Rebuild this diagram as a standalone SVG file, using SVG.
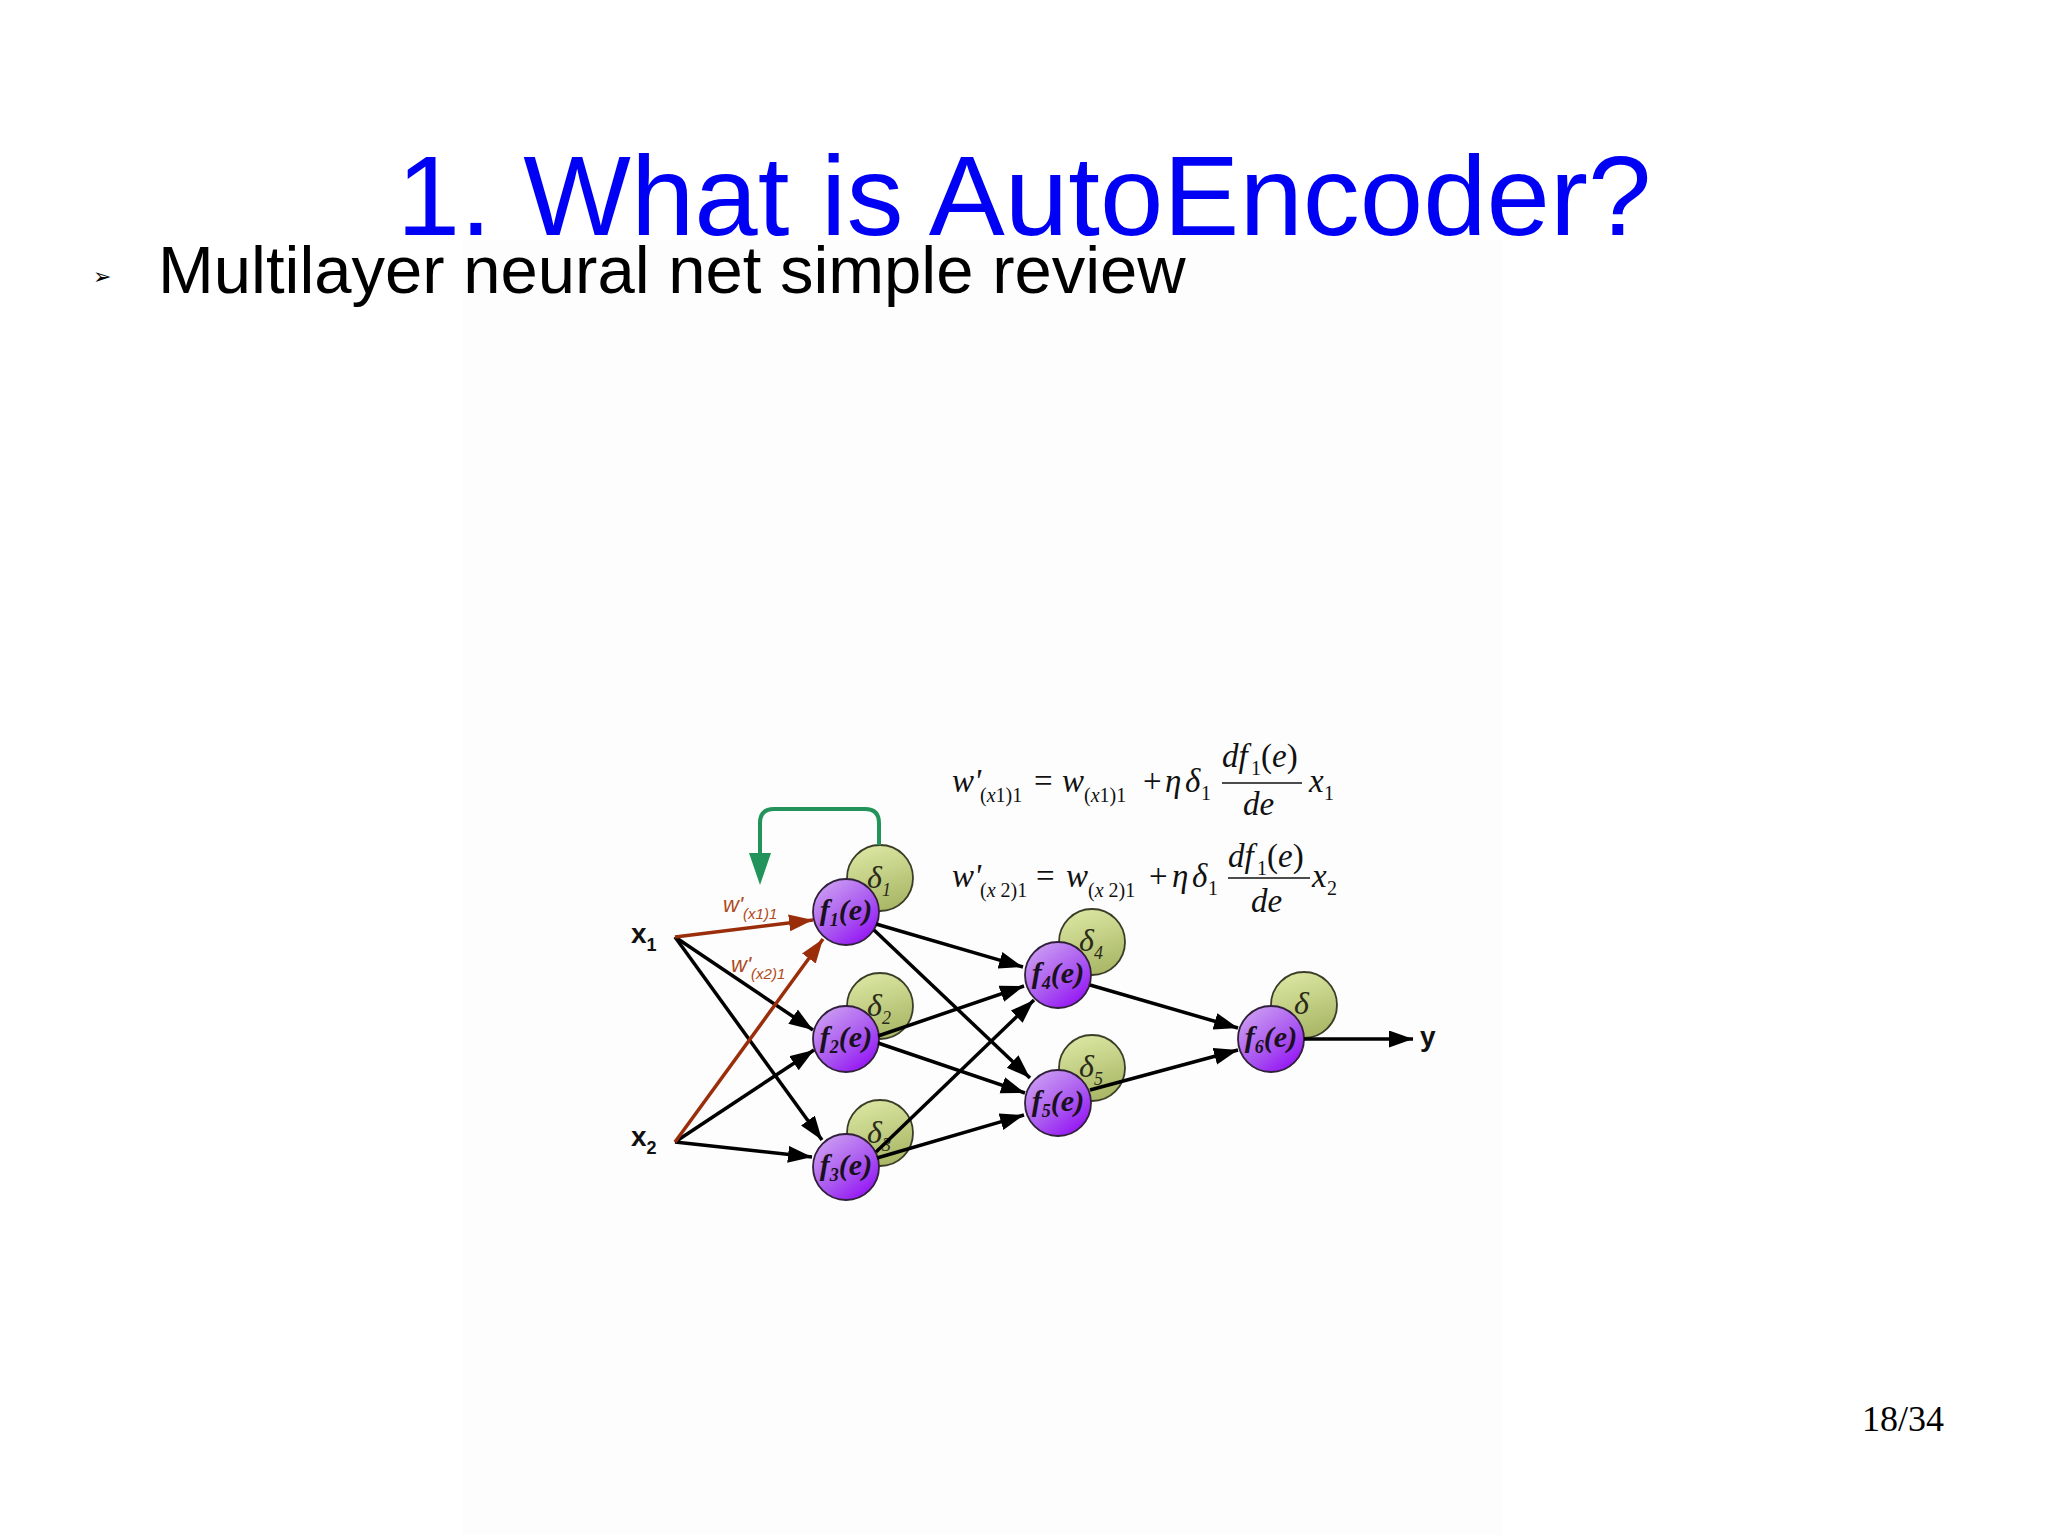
<svg xmlns="http://www.w3.org/2000/svg" width="2048" height="1535" viewBox="0 0 2048 1535">
<style>
.title{font-family:"Liberation Sans",Arial,sans-serif;font-size:114px;fill:#0000f5}
.bullet{font-family:"Liberation Sans",Arial,sans-serif;font-size:67px;fill:#000}
.pg{font-family:"Liberation Serif","Times New Roman",serif;font-size:36px;fill:#000}
.eq{font-family:"Liberation Serif","Times New Roman",serif;font-size:33px;fill:#111}
.it{font-style:italic}
.sub{font-size:20px}
.nl{font-family:"Liberation Serif","Times New Roman",serif;font-style:italic;font-weight:bold;font-size:30px;fill:#1a1020}
.dl{font-family:"Liberation Serif","Times New Roman",serif;font-style:italic;font-size:32px;fill:#2a2a18}
.xl{font-family:"Liberation Sans",Arial,sans-serif;font-weight:bold;font-size:28px;fill:#111}
.wl{font-family:"Liberation Sans",Arial,sans-serif;font-style:italic;font-size:22px;fill:#b04a22}
.blk{stroke:#000;stroke-width:3.5;fill:none;marker-end:url(#ah)}
.brn{stroke:#9a2e0a;stroke-width:3.5;fill:none;marker-end:url(#ahb)}
.gc{fill:url(#gg);stroke:#3c3c28;stroke-width:1.8}
.pc{fill:url(#pg);stroke:#30203a;stroke-width:1.8}
</style>
<defs>
<linearGradient id="pg" x1="0.2" y1="0.1" x2="0.85" y2="0.95">
<stop offset="0" stop-color="#c896f2"/>
<stop offset="0.55" stop-color="#a956f0"/>
<stop offset="1" stop-color="#9410f5"/>
</linearGradient>
<linearGradient id="gg" x1="0.3" y1="0" x2="0.6" y2="1">
<stop offset="0" stop-color="#dbe7a2"/>
<stop offset="1" stop-color="#a8b665"/>
</linearGradient>
<marker id="ah" markerUnits="userSpaceOnUse" markerWidth="26" markerHeight="18" refX="24" refY="8.5" orient="auto">
<path d="M0,0 L24,8.5 L0,17 z" fill="#000"/>
</marker>
<marker id="ahb" markerUnits="userSpaceOnUse" markerWidth="26" markerHeight="18" refX="24" refY="8.5" orient="auto">
<path d="M0,0 L24,8.5 L0,17 z" fill="#9a2e0a"/>
</marker>
</defs>
<rect width="2048" height="1535" fill="#fff"/>
<rect x="463" y="240" width="1040" height="1295" fill="#fdfdfd"/>

<g id="title"><text class="title" x="1024" y="235" text-anchor="middle">1. What is AutoEncoder?</text></g>
<g id="bullet">
<text x="93" y="284" font-family="DejaVu Sans,sans-serif" font-size="22" fill="#000">➢</text>
<text class="bullet" x="158" y="293">Multilayer neural net simple review</text>
</g>
<g id="page"><text class="pg" x="1862" y="1431">18/34</text></g>

<g id="equation1">
<text class="eq it" x="952" y="792">w'</text>
<text class="eq sub" x="980" y="802">(<tspan class="it">x</tspan>1)1</text>
<text class="eq" x="1034" y="792">=</text>
<text class="eq it" x="1062" y="792">w</text>
<text class="eq sub" x="1084" y="802">(<tspan class="it">x</tspan>1)1</text>
<text class="eq" x="1143" y="792">+</text>
<text class="eq it" x="1165" y="792">η</text>
<text class="eq it" x="1185" y="792">δ</text>
<text class="eq sub" x="1201" y="800">1</text>
<text class="eq it" x="1222" y="767">df</text>
<text class="eq sub" x="1251" y="775">1</text>
<text class="eq" x="1261" y="767">(<tspan class="it">e</tspan>)</text>
<line x1="1222" y1="783" x2="1302" y2="783" stroke="#111" stroke-width="1.5"/>
<text class="eq it" x="1243" y="815">de</text>
<text class="eq it" x="1309" y="792">x</text>
<text class="eq sub" x="1324" y="800">1</text>
</g>
<g id="equation2">
<text class="eq it" x="952" y="887">w'</text>
<text class="eq sub" x="980" y="897">(<tspan class="it">x</tspan> 2)1</text>
<text class="eq" x="1036" y="887">=</text>
<text class="eq it" x="1066" y="887">w</text>
<text class="eq sub" x="1088" y="897">(<tspan class="it">x</tspan> 2)1</text>
<text class="eq" x="1149" y="887">+</text>
<text class="eq it" x="1172" y="887">η</text>
<text class="eq it" x="1192" y="887">δ</text>
<text class="eq sub" x="1208" y="895">1</text>
<text class="eq it" x="1228" y="867">df</text>
<text class="eq sub" x="1257" y="875">1</text>
<text class="eq" x="1267" y="867">(<tspan class="it">e</tspan>)</text>
<line x1="1228" y1="878" x2="1310" y2="878" stroke="#111" stroke-width="1.5"/>
<text class="eq it" x="1251" y="912">de</text>
<text class="eq it" x="1312" y="887">x</text>
<text class="eq sub" x="1327" y="895">2</text>
</g>

<g id="input-x1"><text class="xl" x="631" y="943">x<tspan font-size="18" dy="8">1</tspan></text></g>
<g id="input-x2"><text class="xl" x="631" y="1146">x<tspan font-size="18" dy="8">2</tspan></text></g>
<g id="output-y"><text class="xl" x="1420" y="1046">y</text></g>

<g id="node1">
<circle class="gc" cx="880" cy="878" r="33"/>
<text class="dl" x="867" y="888">δ<tspan font-size="18" dy="8">1</tspan></text>
<circle class="pc" cx="846" cy="912" r="33"/>
<text class="nl" x="846" y="920" text-anchor="middle">f<tspan font-size="18" dy="6">1</tspan><tspan dy="-6">(e)</tspan></text>
</g>
<g id="node2">
<circle class="gc" cx="880" cy="1006" r="33"/>
<text class="dl" x="867" y="1016">δ<tspan font-size="18" dy="8">2</tspan></text>
<circle class="pc" cx="846" cy="1039" r="33"/>
<text class="nl" x="846" y="1047" text-anchor="middle">f<tspan font-size="18" dy="6">2</tspan><tspan dy="-6">(e)</tspan></text>
</g>
<g id="node3">
<circle class="gc" cx="880" cy="1133" r="33"/>
<text class="dl" x="867" y="1143">δ<tspan font-size="18" dy="8">3</tspan></text>
<circle class="pc" cx="846" cy="1167" r="33"/>
<text class="nl" x="846" y="1175" text-anchor="middle">f<tspan font-size="18" dy="6">3</tspan><tspan dy="-6">(e)</tspan></text>
</g>
<g id="node4">
<circle class="gc" cx="1092" cy="942" r="33"/>
<text class="dl" x="1079" y="951">δ<tspan font-size="18" dy="8">4</tspan></text>
<circle class="pc" cx="1058" cy="975" r="33"/>
<text class="nl" x="1058" y="983" text-anchor="middle">f<tspan font-size="18" dy="6">4</tspan><tspan dy="-6">(e)</tspan></text>
</g>
<g id="node5">
<circle class="gc" cx="1092" cy="1068" r="33"/>
<text class="dl" x="1079" y="1077">δ<tspan font-size="18" dy="8">5</tspan></text>
<circle class="pc" cx="1058" cy="1103" r="33"/>
<text class="nl" x="1058" y="1111" text-anchor="middle">f<tspan font-size="18" dy="6">5</tspan><tspan dy="-6">(e)</tspan></text>
</g>
<g id="node6">
<circle class="gc" cx="1304" cy="1005" r="33"/>
<text class="dl" x="1294" y="1014">δ</text>
<circle class="pc" cx="1271" cy="1039" r="33"/>
<text class="nl" x="1271" y="1047" text-anchor="middle">f<tspan font-size="18" dy="6">6</tspan><tspan dy="-6">(e)</tspan></text>
</g>

<g id="connectors">
<line class="blk" x1="675" y1="937" x2="813" y2="1030"/>
<line class="blk" x1="675" y1="937" x2="822" y2="1140"/>
<line class="blk" x1="675" y1="1142" x2="814" y2="1050"/>
<line class="blk" x1="675" y1="1142" x2="812" y2="1157"/>
<line class="brn" x1="675" y1="937" x2="813" y2="920"/>
<line class="brn" x1="675" y1="1142" x2="823" y2="939"/>
<line class="blk" x1="876" y1="924" x2="1023" y2="967"/>
<line class="blk" x1="874" y1="930" x2="1030" y2="1078"/>
<line class="blk" x1="878" y1="1036" x2="1024" y2="986"/>
<line class="blk" x1="878" y1="1043" x2="1025" y2="1093"/>
<line class="blk" x1="876" y1="1152" x2="1034" y2="1000"/>
<line class="blk" x1="877" y1="1158" x2="1024" y2="1115"/>
<line class="blk" x1="1090" y1="985" x2="1238" y2="1028"/>
<line class="blk" x1="1090" y1="1090" x2="1238" y2="1050"/>
<line class="blk" x1="1304" y1="1039" x2="1413" y2="1039"/>
<path d="M879,845 V823 Q879,809 865,809 H774 Q760,809 760,823 V856" fill="none" stroke="#22935a" stroke-width="4"/>
<polygon points="749,853 771,853 760,885" fill="#22935a"/>
<text class="wl" x="723" y="912">w'<tspan font-size="15" dy="7">(x1)1</tspan></text>
<text class="wl" x="731" y="972">w'<tspan font-size="15" dy="7">(x2)1</tspan></text>
</g>
</svg>
